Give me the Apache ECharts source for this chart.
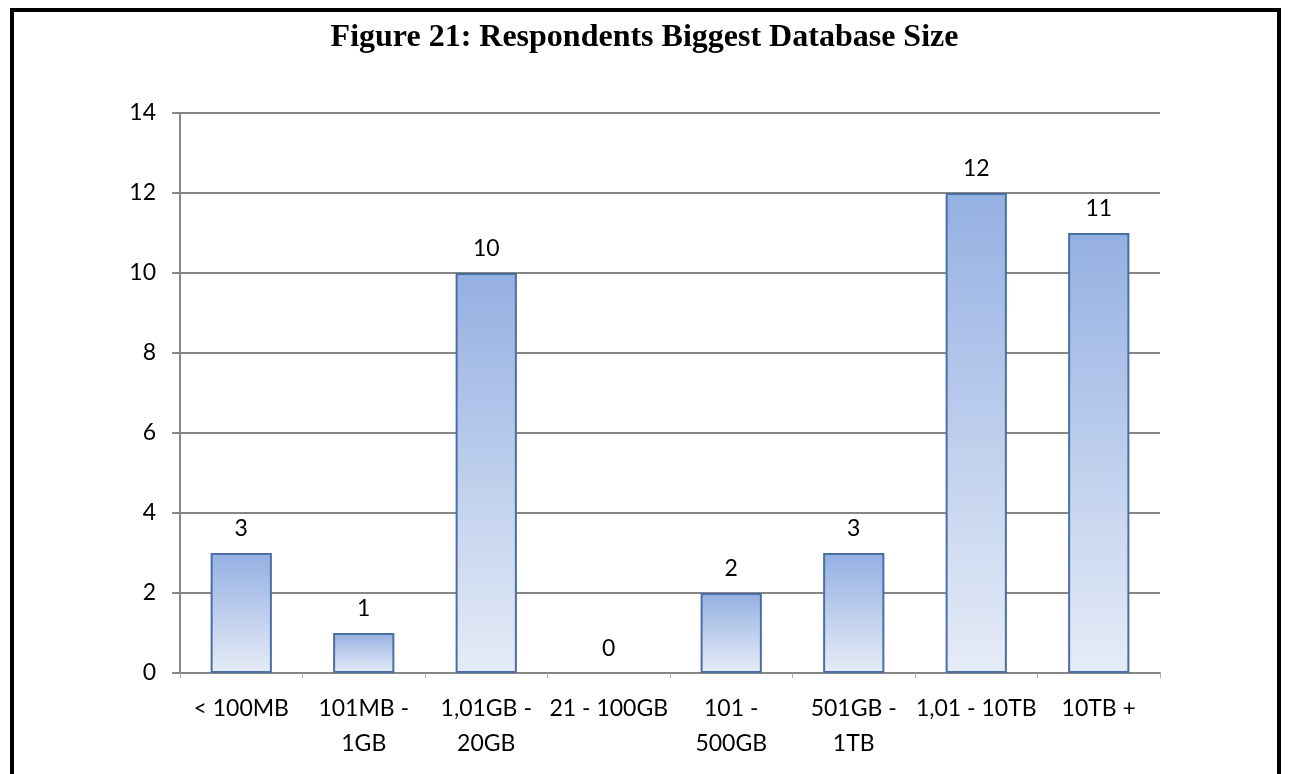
<!DOCTYPE html>
<html>
<head>
<meta charset="utf-8">
<script src="https://cdn.jsdelivr.net/npm/echarts@6/dist/echarts.min.js"></script>
<style>
  html, body { margin: 0; padding: 0; background: #fff; }
  #frame {
    position: absolute; left: 10px; top: 8px; width: 1271px; height: 800px;
    border: 4px solid #000; border-bottom: none; box-sizing: border-box;
  }
  #chart { position: absolute; left: 0; top: 0; width: 1289px; height: 774px; }
</style>
</head>
<body>
<div id="frame"></div>
<div id="chart"></div>
<script>
// data
const categories = ['< 100MB', '101MB -\n1GB', '1,01GB -\n20GB', '21 - 100GB', '101 -\n500GB', '501GB -\n1TB', '1,01 - 10TB', '10TB +']
const respondents = [3, 1, 10, 0, 2, 3, 12, 11]
const yTicks = [0, 2, 4, 6, 8, 10, 12, 14]

const chart = echarts.init(document.getElementById('chart'))
chart.setOption({
  animation: false,
  title: {
    text: 'Figure 21: Respondents Biggest Database Size',
    left: 'center',
    top: 17,
    textStyle: {
      fontFamily: 'Liberation Serif',
      fontWeight: 'bold',
      fontSize: 32,
      color: '#000'
    }
  },
  grid: {
    left: 180,
    right: 129,
    top: 113,
    bottom: 101
  },
  xAxis: {
    type: 'category',
    data: categories,
    axisLine: { lineStyle: { color: '#868686', width: 2 } },
    axisTick: { show: true, length: 5, lineStyle: { color: '#b0b0b0' } },
    axisLabel: {
      fontFamily: 'Lato',
      fontSize: 23,
      color: '#000',
      margin: 18,
      lineHeight: 35,
      interval: 0
    }
  },
  yAxis: {
    type: 'value',
    min: yTicks[0],
    max: yTicks[yTicks.length - 1],
    interval: 2,
    axisLine: { show: true, lineStyle: { color: '#868686', width: 2 } },
    axisTick: { show: true, length: 8, lineStyle: { color: '#868686', width: 2 } },
    splitLine: { lineStyle: { color: '#868686', width: 2 } },
    axisLabel: {
      fontFamily: 'Lato',
      fontSize: 23,
      color: '#000',
      margin: 24
    }
  },
  series: [
    {
      type: 'bar',
      // zero-height bars show no outline in the original
      data: respondents.map(v => ({ value: v, itemStyle: { borderWidth: v === 0 ? 0 : 2 } })),
      barWidth: '50%',
      itemStyle: {
        color: new echarts.graphic.LinearGradient(0, 0, 0, 1, [
          { offset: 0, color: '#94b0e2' },
          { offset: 1, color: '#e6ecf7' }
        ]),
        borderColor: '#4a6fa5',
        borderWidth: 2
      },
      label: {
        show: true,
        position: 'top',
        distance: 13,
        fontFamily: 'Lato',
        fontSize: 23,
        color: '#000'
      }
    }
  ]
})
</script>
</body>
</html>
